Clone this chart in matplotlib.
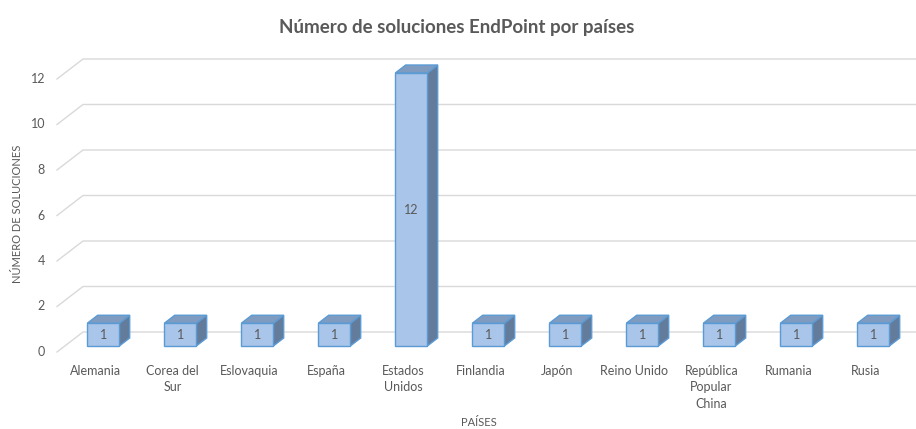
#!/usr/bin/env python3
# Número de soluciones EndPoint por países: fake-3D column chart in the Excel style
import matplotlib; matplotlib.use("Agg")
import matplotlib.pyplot as plt
from matplotlib.patches import Polygon

paises = ["Alemania", "Corea del\nSur", "Eslovaquia", "España", "Estados\nUnidos",
          "Finlandia", "Japón", "Reino Unido", "República\nPopular\nChina", "Rumania", "Rusia"]
soluciones = [1, 1, 1, 1, 12, 1, 1, 1, 1, 1, 1]
yticks = [0, 2, 4, 6, 8, 10, 12]

plt.rcParams["font.family"] = ["Lato", "DejaVu Sans"]
GREY = "#595959"

W, H, DPI = 916, 429, 100
fig = plt.figure(figsize=(W / DPI, H / DPI), dpi=DPI)
# floor front edge: x=-0.5 at px 57, one category = 77 px, one unit = 22.75 px, y=0 at px 352
PXX, PXY = 77.0, 22.75
x0, x1 = -0.5, -0.5 + (W - 57) / PXX
y0, y1 = -0.3, 13.3
ax = fig.add_axes([57 / W, (H - (352 + -y0 * PXY)) / H, (W - 57) / W, (y1 - y0) * PXY / H])
ax.set_xlim(x0, x1); ax.set_ylim(y0, y1); ax.axis("off")

# depth vector of the floor (26 px right, 20 px up) in data units
DX, DY = 26 / PXX, 20 / PXY

# gridlines: diagonal on the left side wall, then flat along the back wall
for v in yticks:
    ax.plot([x0, x0 + DX, x1], [v, v + DY, v + DY], color="#d9d9d9", lw=1, zorder=1,
            clip_on=False)
    fig.text(45 / W, 1 - (352 - v * PXY) / H, str(v), ha="right", va="center",
             fontsize=9, color=GREY)

# bars sit between 30% and 70% of the floor depth
BW = 32 / PXX
d1, d2 = 0.3, 0.7
for i, val in enumerate(soluciones):
    fx = i - BW / 2 + d1 * DX
    fy = d1 * DY
    bx, by = (d2 - d1) * DX, (d2 - d1) * DY
    side = [(fx + BW, fy), (fx + BW + bx, fy + by), (fx + BW + bx, fy + by + val),
            (fx + BW, fy + val)]
    top = [(fx, fy + val), (fx + BW, fy + val), (fx + BW + bx, fy + by + val),
           (fx + bx, fy + by + val)]
    ax.add_patch(Polygon(side, closed=True, fc="#647c9c", ec="#5b9bd5", lw=1, zorder=3))
    ax.add_patch(Polygon(top, closed=True, fc="#7f9bc0", ec="#5b9bd5", lw=1, zorder=3))
    ax.bar(fx + BW / 2, val, width=BW, bottom=fy, color="#a9c5ea", edgecolor="#5b9bd5",
           lw=1, zorder=4)
    ax.text(fx + BW / 2, fy + val / 2, str(val), ha="center", va="center",
            fontsize=9, color=GREY, zorder=5)
    ax.text(i, -0.55, paises[i], ha="center", va="top", fontsize=9, color=GREY,
            linespacing=1.45)

fig.text(457 / W, 1 - 27 / H, "Número de soluciones EndPoint por países", ha="center",
         va="center", fontsize=13.5, fontweight="bold", color=GREY)
fig.text(18 / W, 1 - 214 / H, "NÚMERO DE SOLUCIONES", rotation=90, ha="center",
         va="center", fontsize=8, color=GREY)
fig.text(479 / W, 1 - 423 / H, "PAÍSES", ha="center", va="center", fontsize=8,
         color=GREY)

fig.savefig("out.png", dpi=DPI)
